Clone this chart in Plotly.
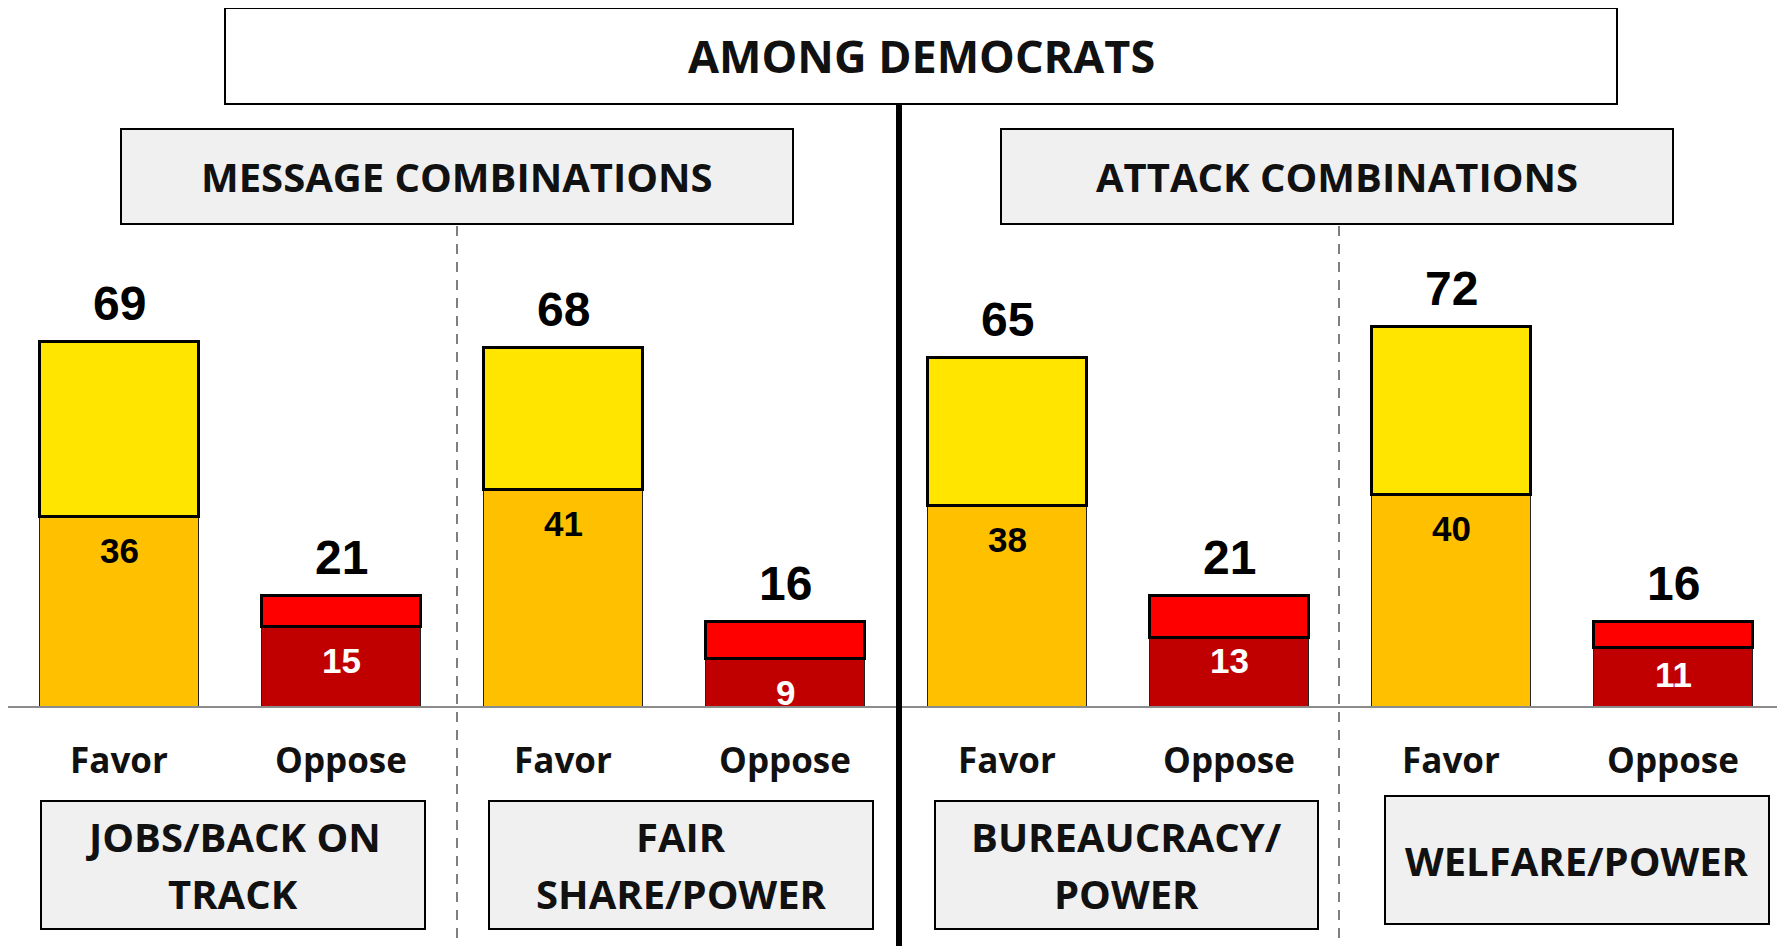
import plotly.graph_objects as go

# data
categories = ["Favor", "Oppose", "Favor", "Oppose", "Favor", "Oppose", "Favor", "Oppose"]
totals = [69, 21, 68, 16, 65, 21, 72, 16]      # printed above the bars
strong = [36, 15, 41, 9, 38, 13, 40, 11]       # bottom (strong) segment
soft = [33, 6, 27, 7, 28, 8, 32, 5]            # top (somewhat) segment as drawn

groups = [["JOBS/BACK ON", "TRACK"], ["FAIR", "SHARE/POWER"],
          ["BUREAUCRACY/", "POWER"], ["WELFARE/POWER"]]
sections = ["MESSAGE COMBINATIONS", "ATTACK COMBINATIONS"]
title = "AMONG DEMOCRATS"

STRONG_COLS = ["#FFC000", "#C00000"] * 4
SOFT_COLS = ["#FFE500", "#FF0000"] * 4
INNER_TXT = ["black", "white"] * 4
INNER_SHIFT = [-34, -34, -34, -34, -34, -23, -34, -27]

W, H = 1785, 946
OFF = 8            # page body margin
ML, MR = 0, 9
BASE = 706 - OFF   # baseline row inside the figure
MB = H - BASE
PW = W - ML - MR


def px_x(p):
    # screen pixel -> paper x
    return (p - OFF - ML) / PW


def px_y(p):
    # screen pixel -> paper y
    return (BASE - (p - OFF)) / BASE


xs = list(range(len(categories)))
tops = [s + t for s, t in zip(strong, soft)]

fig = go.Figure()
fig.add_trace(go.Bar(
    x=xs, y=strong,
    marker=dict(color=STRONG_COLS, line=dict(color="#222222", width=1)),
    hoverinfo="skip",
))
fig.add_trace(go.Bar(
    x=xs, y=soft,
    marker=dict(color=SOFT_COLS, line=dict(color="black", width=3)),
    hoverinfo="skip",
))

NUM_FONT = "Arial, Liberation Sans, sans-serif"
TXT_FONT = "Open Sans, sans-serif"

annotations = []
for i in xs:
    annotations.append(dict(
        x=i, y=tops[i], xref="x", yref="y", yshift=38, showarrow=False,
        text=f"<b>{totals[i]}</b>", font=dict(family=NUM_FONT, size=48, color="black"),
    ))
    annotations.append(dict(
        x=i, y=strong[i], xref="x", yref="y", yshift=INNER_SHIFT[i], showarrow=False,
        text=f"<b>{strong[i]}</b>", font=dict(family=NUM_FONT, size=35, color=INNER_TXT[i]),
    ))

shapes = []


def box(x0, y0, x1, y1, fill, lines, size, gap=57):
    shapes.append(dict(
        type="rect", xref="paper", yref="paper",
        x0=px_x(x0), x1=px_x(x1), y0=px_y(y1), y1=px_y(y0),
        fillcolor=fill, line=dict(color="black", width=2), layer="below",
    ))
    mid = (y0 + y1) / 2
    n = len(lines)
    for k, line in enumerate(lines):
        yc = mid + (k - (n - 1) / 2) * gap
        annotations.append(dict(
            x=px_x((x0 + x1) / 2), y=px_y(yc), xref="paper", yref="paper",
            showarrow=False, text=f"<b>{line}</b>",
            font=dict(family=TXT_FONT, size=size, color="#111111"),
            xanchor="center", yanchor="middle",
        ))


box(225, 8, 1617, 104, "white", [title], 45)
box(121, 129, 793, 224, "#F0F0F0", [sections[0]], 40)
box(1001, 129, 1673, 224, "#F0F0F0", [sections[1]], 40)

bottom_boxes = [(41, 801, 425, 929), (489, 801, 873, 929),
                (935, 801, 1318, 929), (1385, 796, 1769, 924)]
for (x0, y0, x1, y1), g in zip(bottom_boxes, groups):
    box(x0, y0, x1, y1, "#F0F0F0", g, 40)

# thick divider between messages and attacks
shapes.append(dict(type="line", xref="paper", yref="paper",
                   x0=px_x(899), x1=px_x(899), y0=px_y(104), y1=px_y(H + 10),
                   line=dict(color="black", width=6)))
# dashed dividers between combos
for xp in (457, 1339):
    shapes.append(dict(type="line", xref="paper", yref="paper",
                       x0=px_x(xp), x1=px_x(xp), y0=px_y(226), y1=px_y(H - 4),
                       line=dict(color="#7f7f7f", width=2, dash="10px,8px")))

fig.update_layout(
    width=W, height=H,
    barmode="stack", bargap=0.288,
    showlegend=False,
    paper_bgcolor="white", plot_bgcolor="white",
    margin=dict(l=ML, r=MR, t=0, b=MB),
    xaxis=dict(
        range=[-0.5, 7.5], tickvals=xs, ticktext=[f"<b>{c}</b>" for c in categories],
        tickfont=dict(family=TXT_FONT, size=35, color="#111111"),
        showline=True, linecolor="#8c8c8c", linewidth=2,
        showgrid=False, zeroline=False, ticks="", ticklabelstandoff=23,
        fixedrange=True,
    ),
    yaxis=dict(range=[0, BASE / 5.277], visible=False, fixedrange=True),
    shapes=shapes,
    annotations=annotations,
)

fig.write_html("out.html")
